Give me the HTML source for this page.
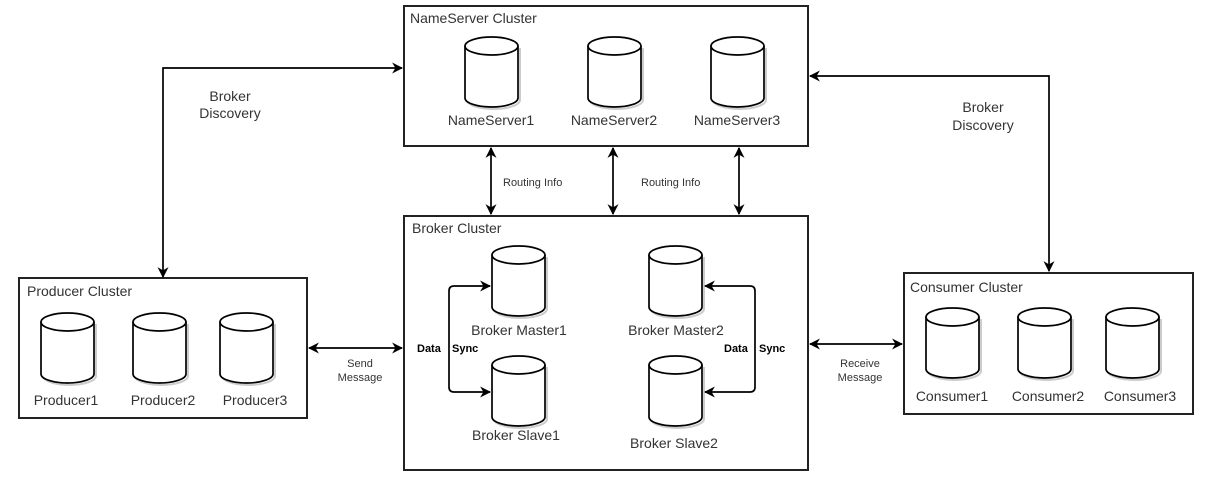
<!DOCTYPE html>
<html><head><meta charset="utf-8"><style>
html,body{margin:0;padding:0;background:#fff;}
svg{display:block;font-family:"Liberation Sans",Arial,sans-serif;}
.t{fill:#333;font-size:14px;}
.s{fill:#333;font-size:11px;}
.b{fill:#000;font-size:11px;font-weight:bold;}
</style></head><body>
<svg width="1212" height="489" viewBox="0 0 1212 489" xmlns="http://www.w3.org/2000/svg">
<defs>
<marker id="a" viewBox="0 0 10 10" refX="9" refY="5" markerWidth="11" markerHeight="11" orient="auto-start-reverse" markerUnits="userSpaceOnUse">
<path d="M0,0 L10,5 L0,10 L3,5 Z" fill="#000"/></marker>
<g id="cyl">
<path d="M2,11 L2,63 A26.5,9 0 0 0 55,63 L55,11" fill="none" stroke="#ccc" stroke-width="2"/>
<path d="M0,9 L0,61 A26.5,9 0 0 0 53,61 L53,9" fill="#fff" stroke="#000" stroke-width="1.7"/>
<ellipse cx="26.5" cy="9" rx="26.5" ry="9" fill="#fff" stroke="#000" stroke-width="1.7"/>
</g>
</defs>
<g fill="none" stroke="#222" stroke-width="2">
<rect x="404" y="6" width="404" height="140"/>
<rect x="404" y="216" width="404" height="254"/>
<rect x="19" y="278" width="288" height="140"/>
<rect x="904" y="273" width="289" height="141"/>
</g>
<text class="t" x="410" y="23">NameServer Cluster</text>
<text class="t" x="412" y="233">Broker Cluster</text>
<text class="t" x="27" y="296">Producer Cluster</text>
<text class="t" x="910" y="292">Consumer Cluster</text>

<use href="#cyl" x="465" y="37"/><use href="#cyl" x="588" y="37"/><use href="#cyl" x="711" y="37"/>
<text class="t" x="491" y="125" text-anchor="middle">NameServer1</text>
<text class="t" x="614" y="125" text-anchor="middle">NameServer2</text>
<text class="t" x="737" y="125" text-anchor="middle">NameServer3</text>

<use href="#cyl" x="492" y="246"/><use href="#cyl" x="492" y="356"/>
<use href="#cyl" x="649" y="246"/><use href="#cyl" x="649" y="356"/>
<text class="t" x="519" y="335" text-anchor="middle">Broker Master1</text>
<text class="t" x="516" y="440" text-anchor="middle">Broker Slave1</text>
<text class="t" x="676" y="335" text-anchor="middle">Broker Master2</text>
<text class="t" x="674" y="448" text-anchor="middle">Broker Slave2</text>

<use href="#cyl" x="41" y="313"/><use href="#cyl" x="133" y="313"/><use href="#cyl" x="220" y="313"/>
<text class="t" x="66" y="405" text-anchor="middle">Producer1</text>
<text class="t" x="163" y="405" text-anchor="middle">Producer2</text>
<text class="t" x="255" y="405" text-anchor="middle">Producer3</text>

<use href="#cyl" x="926" y="308"/><use href="#cyl" x="1018" y="308"/><use href="#cyl" x="1106" y="308"/>
<text class="t" x="952" y="401" text-anchor="middle">Consumer1</text>
<text class="t" x="1048" y="401" text-anchor="middle">Consumer2</text>
<text class="t" x="1140" y="401" text-anchor="middle">Consumer3</text>

<g fill="none" stroke="#000" stroke-width="1.7" marker-start="url(#a)" marker-end="url(#a)">
<line x1="491" y1="148" x2="491" y2="214"/>
<line x1="613" y1="148" x2="613" y2="214"/>
<line x1="739" y1="148" x2="739" y2="214"/>
<path d="M402,68 L163,68 L163,277"/>
<path d="M810,76 L1049,76 L1049,271"/>
<line x1="309" y1="348" x2="402" y2="348"/>
<line x1="810" y1="344" x2="902" y2="344"/>
<path d="M490,286 L454,286 Q449,286 449,291 L449,387 Q449,392 454,392 L490,392"/>
<path d="M705,286 L750,286 Q755,286 755,291 L755,387 Q755,392 750,392 L705,392"/>
</g>
<text class="s" x="503" y="186">Routing Info</text>
<text class="s" x="641" y="186">Routing Info</text>
<text class="t" x="230" y="101" text-anchor="middle">Broker</text>
<text class="t" x="230" y="118" text-anchor="middle">Discovery</text>
<text class="t" x="983" y="112" text-anchor="middle">Broker</text>
<text class="t" x="983" y="130" text-anchor="middle">Discovery</text>
<text class="s" x="360" y="367" text-anchor="middle">Send</text>
<text class="s" x="360" y="381" text-anchor="middle">Message</text>
<text class="s" x="860" y="367" text-anchor="middle">Receive</text>
<text class="s" x="860" y="381" text-anchor="middle">Message</text>
<text class="b" x="417" y="352">Data</text>
<text class="b" x="452" y="352">Sync</text>
<text class="b" x="724" y="352">Data</text>
<text class="b" x="759" y="352">Sync</text>
</svg>
</body></html>
